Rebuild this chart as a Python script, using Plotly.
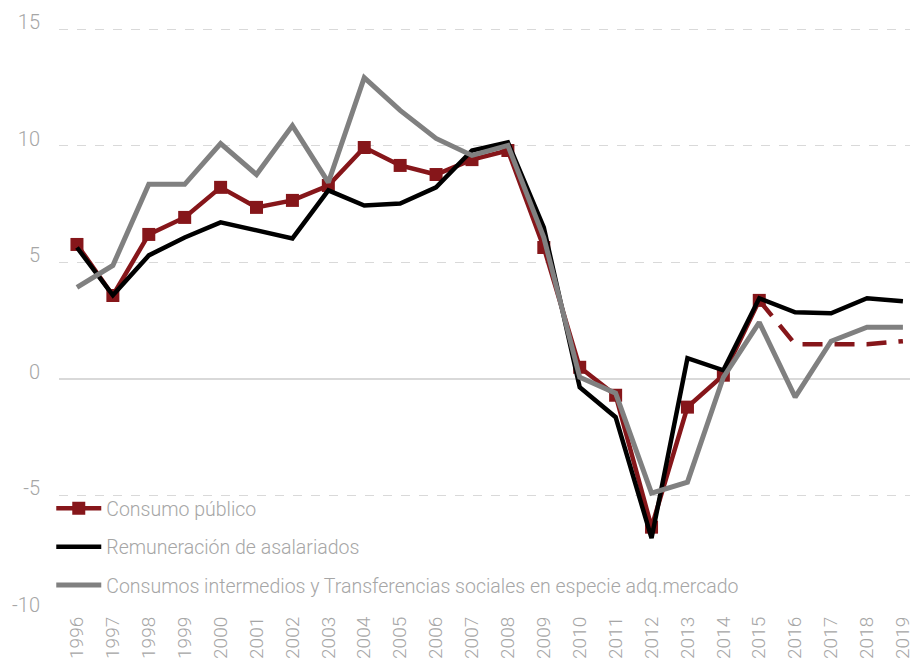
import plotly.graph_objects as go

years = list(range(1996, 2020))
year_labels = [str(y) for y in years]

consumo_publico = [5.77, 3.58, 6.20, 6.93, 8.22, 7.36, 7.66, 8.30, 9.93, 9.16, 8.77, 9.41,
                   9.80, 5.64, 0.50, -0.70, -6.36, -1.21, 0.16, 3.37]
consumo_publico_proy = [3.37, 1.49, 1.49, 1.49, 1.62]
remuneracion = [5.64, 3.59, 5.30, 6.07, 6.72, 6.37, 6.03, 8.09, 7.44, 7.53, 8.22, 9.80,
                10.15, 6.50, -0.36, -1.64, -6.83, 0.89, 0.37, 3.46, 2.86, 2.82, 3.46, 3.33]
consumos_intermedios = [3.93, 4.87, 8.35, 8.35, 10.10, 8.77, 10.87, 8.43, 12.93, 11.52, 10.32, 9.59,
                        10.02, 6.07, 0.07, -0.61, -4.90, -4.43, 0.07, 2.43, -0.78, 1.62, 2.22, 2.22]

y_ticks = [-10, -5, 0, 5, 10, 15]
y_tick_labels = ["-10", "-5", "0", "5", "10", "15"]

RED = "#86161A"
GRAY = "#808080"
TXT = "#a6a6a6"
FONT = "Roboto"

fig = go.Figure()
fig.add_trace(go.Scatter(
    x=years[:len(consumo_publico)], y=consumo_publico, mode="lines+markers",
    name="Consumo público", legendgroup="a",
    line=dict(color=RED, width=4.5),
    marker=dict(symbol="square", size=13, color=RED),
))
fig.add_trace(go.Scatter(
    x=years[len(consumo_publico) - 1:], y=consumo_publico_proy, mode="lines",
    showlegend=False, legendgroup="a",
    line=dict(color=RED, width=4.5, dash="20px,12px"),
))
fig.add_trace(go.Scatter(
    x=years, y=remuneracion, mode="lines",
    name="Remuneración de asalariados", legendgroup="b",
    line=dict(color="#000000", width=4.5),
))
fig.add_trace(go.Scatter(
    x=years, y=consumos_intermedios, mode="lines",
    name="Consumos intermedios y Transferencias sociales en especie adq.mercado", legendgroup="c",
    line=dict(color=GRAY, width=5),
))

fig.update_layout(
    width=910, height=651,
    margin=dict(l=51, r=0, t=19, b=47, autoexpand=False),
    paper_bgcolor="white", plot_bgcolor="white",
    font=dict(family=FONT, color=TXT, size=19, weight=300),
    showlegend=True,
    legend=dict(
        x=-0.009, y=0.21, xanchor="left", yanchor="top",
        bgcolor="rgba(0,0,0,0)", tracegroupgap=10,
        font=dict(family=FONT, size=19.5, color=TXT, weight=300),
        itemwidth=45,
    ),
    xaxis=dict(
        range=[1995.5, 2019.42], tickvals=years, ticktext=year_labels,
        tickangle=-90, showgrid=False, zeroline=False, showline=False,
        ticks="", automargin=False,
        tickfont=dict(family=FONT, size=19, color=TXT, weight=300),
    ),
    yaxis=dict(
        range=[-10, 15.1], tickvals=y_ticks, ticktext=y_tick_labels, showgrid=True,
        gridcolor="#d9d9d9", griddash="dash", gridwidth=1,
        zeroline=True, zerolinecolor="#d9d9d9", zerolinewidth=2,
        showline=False, ticks="", automargin=False,
        ticklabelstandoff=18, ticklabelshift=-7,
        tickfont=dict(family=FONT, size=20, color=TXT, weight=300),
    ),
)

fig.write_html("out.html")
